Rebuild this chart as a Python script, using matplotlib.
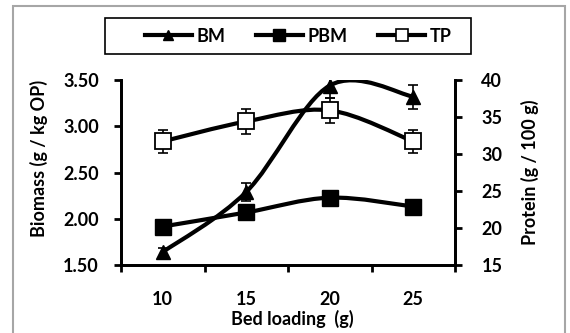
import matplotlib
matplotlib.use("Agg")
import matplotlib.pyplot as plt
from matplotlib.path import Path
from matplotlib.patches import PathPatch, Rectangle
from matplotlib.lines import Line2D
import numpy as np

plt.rcParams['font.family'] = ['Lato', 'DejaVu Sans']
plt.rcParams['font.weight'] = 'bold'

bed_loading = ["10", "15", "20", "25"]
bm = [1.64, 2.29, 3.44, 3.32]          # biomass, g / kg OP (left axis)
bm_err = [0.04, 0.10, 0.13, 0.13]
pbm = [20.2, 22.1, 24.1, 22.9]         # protein in biomass (right axis)
tp = [31.7, 34.4, 35.9, 31.7]          # total protein (right axis)
tp_err = [1.5, 1.7, 1.65, 1.5]


def smooth_path(x, y):
    """Cubic Bezier path through the points (Catmull-Rom style tangents)."""
    pts = np.column_stack([x, y]).astype(float)
    n = len(pts)
    verts = [pts[0]]
    codes = [Path.MOVETO]
    for i in range(n - 1):
        p0 = pts[i - 1] if i > 0 else pts[i]
        p1, p2 = pts[i], pts[i + 1]
        p3 = pts[i + 2] if i + 2 < n else pts[i + 1]
        c1 = p1 + (p2 - p0) / 6.0
        c2 = p2 - (p3 - p1) / 6.0
        verts += [c1, c2, p2]
        codes += [Path.CURVE4] * 3
    return Path(verts, codes)


W, H = 570, 333
FS = 13
fig = plt.figure(figsize=(W / 100, H / 100), dpi=100)
ax = fig.add_axes([121 / W, 1 - 265 / H, (455 - 121) / W, (265 - 80) / H])
ax2 = ax.twinx()

x = np.arange(len(bed_loading))
lw = 3.0

# Biomass on the left axis
ax.add_patch(PathPatch(smooth_path(x, bm), fill=False, lw=lw, ec='black',
                       capstyle='round', zorder=2))
ax.errorbar(x, bm, yerr=bm_err, fmt='none', ecolor='black', elinewidth=1.2,
            capsize=3.5, capthick=1.2, zorder=3)
ax.plot(x, bm, ls='none', marker='^', ms=10, mfc='black', mec='black', zorder=4)

# Protein series on the right axis
ax2.add_patch(PathPatch(smooth_path(x, pbm), fill=False, lw=lw, ec='black',
                        capstyle='round', zorder=2))
ax2.plot(x, pbm, ls='none', marker='s', ms=11, mfc='black', mec='black', zorder=4)
ax2.add_patch(PathPatch(smooth_path(x, tp), fill=False, lw=lw, ec='black',
                        capstyle='round', zorder=2))
ax2.errorbar(x, tp, yerr=tp_err, fmt='none', ecolor='black', elinewidth=1.2,
             capsize=3.5, capthick=1.2, zorder=3)
ax2.plot(x, tp, ls='none', marker='s', ms=11, mfc='white', mec='black',
         mew=1.3, zorder=4)

ax.set_xlim(-0.5, len(x) - 0.5)
ax.set_ylim(1.5, 3.5)
ax2.set_ylim(15, 40)
ax.set_yticks(np.arange(1.5, 3.51, 0.5))
ax.set_yticklabels([f"{v:.2f}" for v in np.arange(1.5, 3.51, 0.5)])
ax2.set_yticks(np.arange(15, 41, 5))

# Category axis: ticks on boundaries, labels centred
ax.set_xticks(np.arange(-0.5, len(x), 1.0))
ax.set_xticklabels([])
ax.set_xticks(x, minor=True)
ax.set_xticklabels(bed_loading, minor=True)
ax.tick_params(axis='x', which='major', direction='out', length=5, width=2)
ax.tick_params(axis='x', which='minor', length=0, pad=19, labelsize=FS)

ax.tick_params(axis='y', direction='out', length=5, width=2, pad=11, labelsize=FS)
ax2.tick_params(axis='y', direction='out', length=5, width=2, pad=14, labelsize=FS)

for a in (ax, ax2):
    for s in a.spines.values():
        s.set_linewidth(2)
    a.spines['top'].set_visible(False)

for lab in ax.get_yticklabels() + ax2.get_yticklabels() + ax.get_xticklabels(minor=True):
    lab.set_fontweight('bold')

fig.text(39 / W, 1 - 158 / H, "Biomass (g / kg OP)", rotation=90,
         ha='center', va='center', fontsize=FS, fontweight='bold')
fig.text(530 / W, 1 - 172 / H, "Protein (g / 100 g)", rotation=90,
         ha='center', va='center', fontsize=FS, fontweight='bold')
fig.text(292 / W, 1 - 319 / H, "Bed loading  (g)", ha='center', va='center',
         fontsize=FS, fontweight='bold')

# Legend (frame drawn separately so it can be wider than its entries)
handles = [
    Line2D([], [], color='black', lw=lw, marker='^', ms=7, mfc='black'),
    Line2D([], [], color='black', lw=lw, marker='s', ms=8, mfc='black'),
    Line2D([], [], color='black', lw=lw, marker='s', ms=9, mfc='white', mew=1.2),
]
fig.legend(handles, ["BM", "PBM", "TP"], loc='center',
           bbox_to_anchor=(298 / W, 1 - 36 / H), ncol=3, frameon=False,
           handlelength=2.6, handletextpad=0.25, columnspacing=1.7,
           borderpad=0, borderaxespad=0,
           prop={'weight': 'bold', 'size': FS})
fig.add_artist(Rectangle((105 / W, 1 - 54 / H), (471 - 105) / W, 36 / H,
                         transform=fig.transFigure, fill=False,
                         ec='black', lw=1.2))

# Chart-area border
fig.add_artist(Rectangle((13 / W, -0.05), (565 - 13) / W, 1.05 - 6 / H,
                         transform=fig.transFigure, fill=False,
                         ec='#a6a6a6', lw=1.5))

fig.savefig("out.png", dpi=100)
